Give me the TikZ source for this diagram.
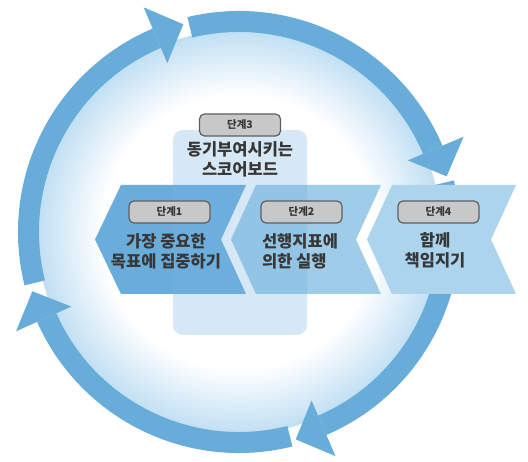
\documentclass[tikz,border=0pt]{standalone}
\usepackage{fontspec}
\setmainfont{Noto Sans CJK KR}
\usetikzlibrary{calc}
\definecolor{ringblue}{RGB}{104,172,217}
\definecolor{diskedge}{RGB}{192,223,243}
\definecolor{chevA}{RGB}{106,172,218}
\definecolor{chevB}{RGB}{158,204,233}
\definecolor{chevC}{RGB}{172,213,237}
\definecolor{boxblue}{RGB}{120,180,225}
\definecolor{labelgray}{RGB}{200,200,200}
\definecolor{labeledge}{RGB}{95,95,95}
\definecolor{txt}{RGB}{55,55,55}
\pgfdeclareradialshading{diskshade}{\pgfpoint{0bp}{0bp}}{color(0bp)=(white); color(17bp)=(white); color(25bp)=(diskedge); color(50bp)=(diskedge)}
\newcommand\ringband[2]{\fill[ringseg] (#1:200) arc[start angle=#1,end angle=#2,radius=200] -- (#2:221) arc[start angle=#2,end angle=#1,radius=221] -- cycle;}
\newcommand\ringhead[1]{\fill[ringseg] (#1:183.5) -- (#1:244) -- ({#1-8}:215) -- cycle;}
\begin{document}
\begin{tikzpicture}[x=1pt,y=1pt,
  ringseg/.style={fill=ringblue},
  steplabel/.style={draw=labeledge, line width=1.2pt, fill=labelgray, rounded corners=5pt, minimum width=81pt, minimum height=22pt, inner sep=0pt, font=\bfseries\fontsize{10.5}{12}\selectfont, text=txt},
  steptext/.style={font=\bfseries\fontsize{16.5}{20}\selectfont, text=txt, align=center, inner sep=0pt}]
\useasboundingbox (0,0) rectangle (528,461);
\fill[white] (0,0) rectangle (528,461);
\coordinate (ctr) at (239,229);
\shade[shading=diskshade] (ctr) circle (202);
\begin{scope}[shift={(ctr)}]
  \ringband{194}{113}
  \ringhead{113}
  \ringband{103.5}{23}
  \ringhead{23}
  \ringband{13.5}{-66.7}
  \ringhead{-66.7}
  \ringband{284}{204}
  \ringhead{204}
\end{scope}
% chevrons
\fill[chevA] (95,221.5) -- (121,276) -- (246,276) -- (221,221.5) -- (246,167) -- (121,167) -- cycle;
\fill[chevB] (231,221.5) -- (256,276) -- (381,276) -- (356,221.5) -- (381,167) -- (256,167) -- cycle;
\fill[chevC] (367,221.5) -- (392,276) -- (516,276) -- (491,221.5) -- (516,167) -- (392,167) -- cycle;
% tall box
\fill[boxblue, fill opacity=0.3, rounded corners=10pt] (173,126) rectangle (307,331);
% labels
\node[steplabel] (l3) at (240,336) {단계3};
\node[steplabel] (l1) at (169.5,249) {단계1};
\node[steplabel] (l2) at (301.5,249) {단계2};
\node[steplabel] (l4) at (438.5,249) {단계4};
\node[steptext] (t3) at (240,302) {동기부여시키는\\스코어보드};
\node[steptext] (t1) at (166,210) {가장 중요한\\목표에 집중하기};
\node[steptext, align=left] (t2) at (300,210) {선행지표에\\의한 실행};
\node[steptext] (t4) at (435,211) {함께\\책임지기};
\end{tikzpicture}
\end{document}
